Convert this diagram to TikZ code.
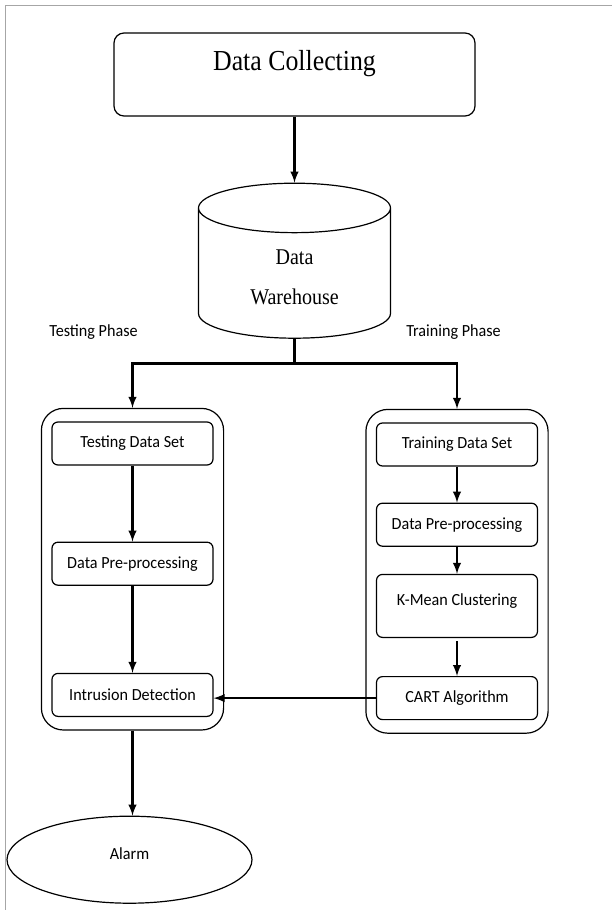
\documentclass[tikz,border=0pt]{standalone}
\usepackage{fontspec}
\usetikzlibrary{shapes.geometric, arrows, positioning, fit, calc}
\newfontfamily\labelfont[FakeStretch=0.95]{Carlito}
\newfontfamily\headfont[FakeStretch=0.89]{Liberation Serif}

\begin{document}
\begin{tikzpicture}[
        x=1pt, y=1pt, >=latex,
        font=\labelfont\fontsize{17}{20}\selectfont,
        line width=1.2pt,
        collect/.style={draw, rounded corners=10pt, minimum width=361pt, inner ysep=0pt, text height=37pt, text depth=46pt, font=\headfont\fontsize{29}{34}\selectfont},
        store/.style={draw, cylinder, shape border rotate=90, aspect=0.52, minimum width=192pt, minimum height=155pt, inner ysep=0pt, align=center, text height=68pt, text depth=12pt, font=\headfont\fontsize{22.5}{40}\selectfont},
        stepbox/.style={draw, rounded corners=6pt, minimum width=161pt, minimum height=43pt},
        phasebox/.style={draw, rounded corners=22pt, inner xsep=10pt, inner ysep=13pt},
        alarmshape/.style={draw, ellipse, minimum width=245pt, minimum height=87pt, text height=10pt, text depth=10pt},
        arr/.style={->, line width=2.7pt}
    ]
        \useasboundingbox (0,0) rectangle (612,-910);
        \draw[gray!70, line width=1.5pt] (612,-5.5) -- (5.5,-5.5) -- (5.5,-910);

        \node[collect] (dc) at (294.5,-74.5) {Data Collecting};
        \node[store, below=66pt of dc] (store) {Data\\Warehouse};
        \node (testlbl) at (93.5,-332) {Testing Phase};
        \node (trainlbl) at (453.5,-332) {Training Phase};

        % testing side
        \node[stepbox] (testset) at (132.5,-443.5) {Testing Data Set};
        \node[stepbox, below=76pt of testset] (testprep) {Data Pre-processing};
        \node[stepbox, below=87pt of testprep] (detect) {Intrusion Detection};
        \node[phasebox, fit=(testset)(detect)] (testgrp) {};

        % training side
        \node[stepbox] (trainset) at (457,-444.5) {Training Data Set};
        \node[stepbox, below=36pt of trainset] (trainprep) {Data Pre-processing};
        \node[stepbox, minimum height=63pt, text height=10pt, text depth=10pt, below=27pt of trainprep] (kmean) {K-Mean Clustering};
        \node[stepbox, below=38pt of kmean] (cart) {CART Algorithm};
        \node[phasebox, fit=(trainset)(cart)] (traingrp) {};

        \node[alarmshape, below=85pt of testgrp, xshift=-3pt] (alarm) {Alarm};

        \draw[arr] (dc) -- (store);
        \coordinate[below=25pt of store.south] (fork);
        \draw[line width=2.7pt] (store.south) -- (fork);
        \draw[arr] (fork) -| (testgrp);
        \draw[arr] (fork) -| (traingrp);
        \draw[arr] (testset) -- (testprep);
        \draw[arr] (testprep) -- (detect);
        \draw[arr] (trainset) -- (trainprep);
        \draw[arr] (trainprep) -- (kmean);
        \draw[arr, shorten <=3pt] (kmean) -- (cart);
        \draw[arr] (cart.west) -- (cart.west -| detect.east);
        \draw[arr] (testgrp.south) -- (testgrp.south |- alarm.north);
    \end{tikzpicture}
\end{document}
